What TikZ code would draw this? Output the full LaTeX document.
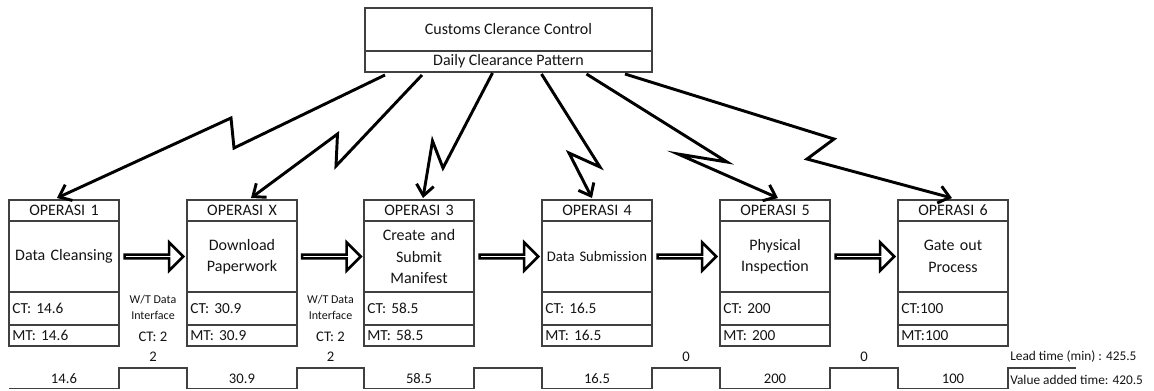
\documentclass[tikz,border=0pt]{standalone}
\usepackage{fontspec}
\setmainfont{Carlito}
\usepackage{tikz}
\usetikzlibrary{calc,arrows.meta}
\usetikzlibrary{shapes.arrows}
\usetikzlibrary{positioning}
\definecolor{vsm-line}{HTML}{404040}
\definecolor{vsm-text}{HTML}{141414}

\begin{document}
\begin{tikzpicture}[x=0.75pt, y=-0.75pt,
    cell/.style={draw=vsm-line, line width=0.8pt, minimum width=82.5pt, outer sep=0pt,
      inner xsep=2.5pt, inner ysep=0pt, text width=77.5pt, text=vsm-text},
    headcell/.style={cell, align=center, minimum height=15.75pt, font=\fontsize{12}{14}\selectfont},
    bodycell/.style={cell, align=center, minimum height=53.25pt, font=\fontsize{12}{16}\selectfont},
    ctcell/.style={cell, align=left, minimum height=24.75pt, font=\fontsize{11.5}{14}\selectfont},
    mtcell/.style={cell, align=left, minimum height=15.75pt, font=\fontsize{11.5}{14}\selectfont},
    ctrlcell/.style={draw=vsm-line, line width=0.8pt, minimum width=215.25pt, outer sep=0pt,
      inner sep=0pt, text=vsm-text, font=\fontsize{12}{14}\selectfont},
    bolt/.style={black, line width=2.2pt, -{Straight Barb[length=8pt,width=13pt]}},
    push/.style={single arrow, draw=black, line width=1.9pt, fill=white, minimum height=44pt,
      minimum width=21pt, single arrow head extend=6.5pt, inner sep=0pt},
    tline/.style={draw=vsm-line, line width=1pt},
    tlabel/.style={text=vsm-text, inner sep=0pt, font=\fontsize{11}{13}\selectfont},
    wtlabel/.style={text=vsm-text, inner sep=0pt, align=center, font=\fontsize{9}{12}\selectfont}]
    \useasboundingbox (0,0) rectangle (1154,390);

    % Control
    \node[ctrlcell, minimum height=32.25pt] (ctrl) at (508.5,29.5) {Customs Clerance Control};
    \node[ctrlcell, minimum height=15.75pt, below=0pt of ctrl] (pat) {Daily Clearance Pattern};

    % Operations
    \node[headcell] (h1) at (64,210.5) {OPERASI 1};
    \node[bodycell, below=0pt of h1] (b1) {Data Cleansing};
    \node[ctcell, below=0pt of b1] (c1) {CT: 14.6};
    \node[mtcell, below=0pt of c1] (m1) {MT: 14.6};

    \node[headcell] (hX) at (242,210.5) {OPERASI X};
    \node[bodycell, below=0pt of hX] (bX) {Download\\Paperwork};
    \node[ctcell, below=0pt of bX] (cX) {CT: 30.9};
    \node[mtcell, below=0pt of cX] (mX) {MT: 30.9};

    \node[headcell] (h3) at (419,210.5) {OPERASI 3};
    \node[bodycell, below=0pt of h3] (b3) {Create and\\Submit\\Manifest};
    \node[ctcell, below=0pt of b3] (c3) {CT: 58.5};
    \node[mtcell, below=0pt of c3] (m3) {MT: 58.5};

    \node[headcell] (h4) at (597,210.5) {OPERASI 4};
    \node[bodycell, below=0pt of h4, font=\fontsize{11}{14}\selectfont] (b4) {Data Submission};
    \node[ctcell, below=0pt of b4] (c4) {CT: 16.5};
    \node[mtcell, below=0pt of c4] (m4) {MT: 16.5};

    \node[headcell] (h5) at (775,210.5) {OPERASI 5};
    \node[bodycell, below=0pt of h5] (b5) {Physical\\Inspection};
    \node[ctcell, below=0pt of b5] (c5) {CT: 200};
    \node[mtcell, below=0pt of c5] (m5) {MT: 200};

    \node[headcell] (h6) at (953,210.5) {OPERASI 6};
    \node[bodycell, below=0pt of h6] (b6) {Gate out\\Process};
    \node[ctcell, below=0pt of b6] (c6) {CT:100};
    \node[mtcell, below=0pt of c6] (m6) {MT:100};

    % Push arrows
    \node[push] (p1) at ($(b1.east)!0.5!(bX.west)$) {};
    \node[push] (p2) at ($(bX.east)!0.5!(b3.west)$) {};
    \node[push] (p3) at ($(b3.east)!0.5!(b4.west)$) {};
    \node[push] (p4) at ($(b4.east)!0.5!(b5.west)$) {};
    \node[push] (p5) at ($(b5.east)!0.5!(b6.west)$) {};

    % Data interfaces
    \node[wtlabel] (wt1) at (153,307) {W/T Data\\Interface};
    \node[tlabel] (wc1) at (153,337) {CT: 2};
    \node[wtlabel] (wt2) at (330.5,307) {W/T Data\\Interface};
    \node[tlabel] (wc2) at (330.5,337) {CT: 2};

    % Information flow
    \draw[bolt] ($(pat.south)+(-123.5,3)$) -- (234,148) -- (231,118) -- ($(h1.north)+(-7,-2)$);
    \draw[bolt] ($(pat.south)+(-86.5,3)$) -- (336,166) -- (337.5,134) -- ($(hX.north)+(9,-2)$);
    \draw[bolt] ($(pat.south)+(-16,1)$) -- (443,168) -- (432.5,141) -- ($(h3.north)+(4,-2)$);
    \draw[bolt] ($(pat.south)+(33,2)$) -- (600,167) -- (569,153) -- ($(h4.north)+(-5,-2)$);
    \draw[bolt] ($(pat.south)+(78,2)$) -- (727,162) -- (678,154) -- ($(h5.north)+(3,-2)$);
    \draw[bolt] ($(pat.south)+(116.5,2)$) -- (834,139) -- (807,159) -- ($(h6.north)+(-1,-2)$);

    % Timeline
    \draw[tline] (9,388.5) -| (119,368) -| (187,388.5) -| (297,368) -| (364,388.5) -| (474,368)
      -| (542,388.5) -| (652,368) -| (720,388.5) -| (830,368) -| (898,388.5) -| (1008,368) -- (1076,368);
    \node[tlabel] (t1) at (64,378.5) {14.6};
    \node[tlabel] (tX) at (242,378.5) {30.9};
    \node[tlabel] (t3) at (419,378.5) {58.5};
    \node[tlabel] (t4) at (597,378.5) {16.5};
    \node[tlabel] (t5) at (775,378.5) {200};
    \node[tlabel] (t6) at (953,378.5) {100};
    \node[tlabel] (w1) at (153,357) {2};
    \node[tlabel] (w2) at (330.5,357) {2};
    \node[tlabel] (w4) at (686,357) {0};
    \node[tlabel] (w5) at (864,357) {0};
    \node[tlabel, anchor=west, font=\fontsize{10}{12}\selectfont] (lead) at (1010,357) {Lead time (min) : 425.5};
    \node[tlabel, anchor=west, font=\fontsize{10}{12}\selectfont] (vat) at (1010,380) {Value added time: 420.5};
\end{tikzpicture}
\end{document}
